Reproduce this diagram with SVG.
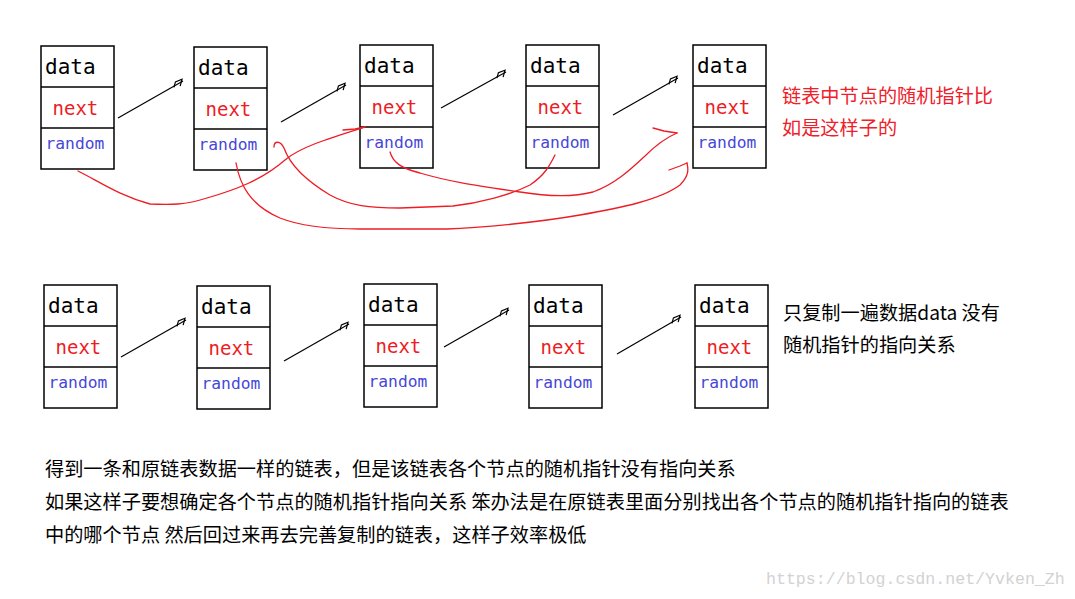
<svg xmlns="http://www.w3.org/2000/svg" width="1075" height="599" viewBox="0 0 1075 599">
<style>
.box{fill:#fff;stroke:#000;stroke-width:1.5}
.div{stroke:#000;stroke-width:1.5}
.data{font-family:"DejaVu Sans Mono","Liberation Mono",monospace;font-size:21px;fill:#000}
.next{font-family:"DejaVu Sans Mono","Liberation Mono",monospace;font-size:19px;fill:#ee1c24}
.rnd{font-family:"DejaVu Sans Mono","Liberation Mono",monospace;font-size:16.3px;fill:#4646d8}
.arr{fill:none;stroke:#000;stroke-width:1.2;stroke-linejoin:round}
.red{fill:none;stroke:#ee1c24;stroke-width:1.3;stroke-linecap:round;stroke-linejoin:round}
.cn{font-family:"Noto Sans CJK SC","Microsoft YaHei",sans-serif;font-size:19.2px}
.wm{font-family:"Liberation Mono","DejaVu Sans Mono",monospace;font-size:16.6px;fill:#d2d2d2}
</style>
<defs>
<g id="node">
<rect class="box" x="0" y="0" width="73" height="123"/>
<line class="div" x1="0" y1="41" x2="73" y2="41"/>
<line class="div" x1="0" y1="82" x2="73" y2="82"/>
<text class="data" x="4" y="28">data</text>
<text class="next" x="11.5" y="69">next</text>
<text class="rnd" x="4.5" y="103">random</text>
</g>
<marker id="ah" viewBox="-14 -8 18 16" refX="0" refY="0" markerWidth="18" markerHeight="16" markerUnits="userSpaceOnUse" orient="auto">
<path d="M-11,1 L-7,-3 L0,-2 L-5,3" fill="none" stroke="#000" stroke-width="1.2"/>
</marker>
</defs>
<g id="top-row">
<g id="t1"><use href="#node" x="41" y="46"/></g>
<g id="t2"><use href="#node" x="194" y="47"/></g>
<g id="t3"><use href="#node" x="360" y="45"/></g>
<g id="t4"><use href="#node" x="526" y="45"/></g>
<g id="t5"><use href="#node" x="693" y="45"/></g>
</g>
<g id="bottom-row">
<g id="b1"><use href="#node" x="44" y="285"/></g>
<g id="b2"><use href="#node" x="197" y="286"/></g>
<g id="b3"><use href="#node" x="364" y="284"/></g>
<g id="b4"><use href="#node" x="529" y="285"/></g>
<g id="b5"><use href="#node" x="695" y="285"/></g>
</g>
<g id="connectors">
<path class="arr" d="M118,118 L183,81" marker-end="url(#ah)"/>
<path class="arr" d="M281,122 L346,85" marker-end="url(#ah)"/>
<path class="arr" d="M441,108 L506,72" marker-end="url(#ah)"/>
<path class="arr" d="M613,115 L678,78" marker-end="url(#ah)"/>
<path class="arr" d="M121,357 L186,320" marker-end="url(#ah)"/>
<path class="arr" d="M284,361 L349,324" marker-end="url(#ah)"/>
<path class="arr" d="M444,347 L509,310" marker-end="url(#ah)"/>
<path class="arr" d="M617,354 L681,317" marker-end="url(#ah)"/>
<path class="red" d="M78,171 C100,182 120,196 150,204 C170,205 185,205 207,198 C235,190 262,180 285,160 C300,147 330,138 365,127"/>
<path class="red" d="M343,130 L355,129 L365,127"/>
<path class="red" d="M236,163 C240,185 250,205 280,218 C300,226 330,229 360,229 L447,229 C480,228 540,222 580,215 C620,208 660,200 680,185 C690,175 688,168 687,163"/>
<path class="red" d="M669,170 L680,166 L687,163"/>
<path class="red" d="M274,147 C274,141 280,140 284,148 C290,165 305,180 330,195 C350,206 370,208 400,208 L453,206 C480,203 510,195 530,185 C545,175 550,165 555,155"/>
<path class="red" d="M390,152 C393,162 400,168 420,173 C450,182 480,186 520,192 C545,196 570,198 593,192 C615,184 630,170 645,156 C655,146 665,138 677,133"/>
<path class="red" d="M653,128 L664,131 L677,133"/>
</g>
<g id="notes">
<text class="cn" x="782" y="103" fill="#f0202a">链表中节点的随机指针比</text>
<text class="cn" x="782" y="135" fill="#f0202a">如是这样子的</text>
<text class="cn" x="783" y="320" fill="#000">只复制一遍数据data 没有</text>
<text class="cn" x="783" y="352" fill="#000">随机指针的指向关系</text>
<text class="cn" x="45" y="476" fill="#000">得到一条和原链表数据一样的链表，但是该链表各个节点的随机指针没有指向关系</text>
<text class="cn" x="45" y="509" fill="#000">如果这样子要想确定各个节点的随机指针指向关系 笨办法是在原链表里面分别找出各个节点的随机指针指向的链表</text>
<text class="cn" x="45" y="542" fill="#000">中的哪个节点 然后回过来再去完善复制的链表，这样子效率极低</text>
<text class="wm" x="766" y="584">https://blog.csdn.net/Yvken_Zh</text>
</g>
</svg>
